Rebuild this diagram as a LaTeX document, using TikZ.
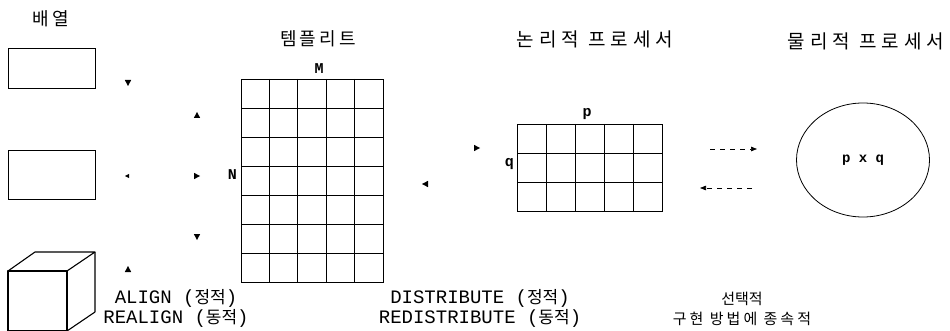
\documentclass[tikz,border=0pt]{standalone}
\usepackage{fontspec}
\setmainfont{Liberation Serif}
\setmonofont{Liberation Mono}
\newfontfamily\krfont[LetterSpace=18]{Noto Sans CJK KR}
\newfontfamily\krwide[LetterSpace=26]{Noto Sans CJK KR}
\newfontfamily\krbot[LetterSpace=20]{Noto Sans CJK KR}
\newfontfamily\krin{Noto Sans CJK KR}
\usetikzlibrary{arrows.meta,shapes.geometric}
\begin{document}
\begin{tikzpicture}[x=1pt,y=-1pt,
  box/.style={draw, line width=0.9pt, inner sep=0pt},
  title/.style={font=\krfont\fontsize{18}{20}\selectfont, inner sep=0pt},
  widetitle/.style={font=\krwide\fontsize{19}{20}\selectfont, inner sep=0pt},
  lbl/.style={font=\ttfamily\bfseries\fontsize{15}{16}\selectfont, inner sep=0pt},
  note/.style={font=\ttfamily\fontsize{19}{20}\selectfont, align=center, inner sep=0pt},
  knote/.style={font=\krbot\fontsize{15}{20}\selectfont, align=center, inner sep=0pt},
  gridline/.style={line width=0.9pt},
  dasharrow/.style={line width=0.7pt, dash pattern=on 5pt off 5pt, -{Triangle[length=6pt,width=4.5pt]}},
  tip/.pic={\fill (0,0) -- (-6,3.2) -- (-6,-3.2) -- cycle;}
]
\newcommand{\ko}[1]{{\krin\fontsize{17}{20}\selectfont #1}}
\useasboundingbox (0,0) rectangle (950,331);

% titles
\node[title] (tarr) at (51,19) {배열};
\node[title] (ttmp) at (318,39) {템플리트};
\node[widetitle] (tlog) at (595,39) {논리적 프로세서};
\node[widetitle] (tphy) at (866,41) {물리적 프로세서};

% arrays
\node[box, minimum width=87pt, minimum height=40pt] (arr1) at (51.5,68) {};
\node[box, minimum width=87pt, minimum height=49pt] (arr2) at (51.5,174.5) {};
% cube
\coordinate (cA) at (8,271);
\coordinate (cB) at (67,271);
\coordinate (cC) at (67,331);
\coordinate (cD) at (8,331);
\coordinate (cE) at (35,252);
\coordinate (cF) at (95,252);
\coordinate (cG) at (95,312);
\draw[line width=1.1pt, line join=round] (cA) -- (cB) -- (cC) -- (cD) -- cycle;
\draw[line width=1.1pt, line join=round] (cA) -- (cE) -- (cF) -- (cB);
\draw[line width=1.1pt, line join=round] (cF) -- (cG) -- (cC);

% arrow heads (lines faded in original)
\pic[rotate=-90] at (128,86) {tip};
\pic[rotate=90] at (197,112) {tip};
\pic[rotate=180, scale=0.7] at (125,176) {tip};
\pic at (200,176) {tip};
\pic[rotate=-90] at (197,240) {tip};
\pic[rotate=90] at (128,266) {tip};
\pic at (480,148) {tip};
\pic[rotate=180] at (422,184) {tip};

% template grid 5 x 7
\node[box, minimum width=142pt, minimum height=203pt] (tmpl) at (312,180.5) {};
\foreach \i in {1,...,4} \draw[gridline] (241+\i*28.4,79) -- (241+\i*28.4,282);
\foreach \j in {1,...,6} \draw[gridline] (241,79+\j*29) -- (383,79+\j*29);
\node[lbl, anchor=south] (lM) at (319,74) {M};
\node[lbl, anchor=east] (lN) at (237,175) {N};

% logical processor grid 5 x 3
\node[box, minimum width=145pt, minimum height=87pt] (lgrid) at (589.5,167.5) {};
\foreach \i in {1,...,4} \draw[gridline] (517+\i*29,124) -- (517+\i*29,211);
\foreach \j in {1,2} \draw[gridline] (517,124+\j*29) -- (662,124+\j*29);
\node[lbl, anchor=south] (lp) at (587,120) {p};
\node[lbl, anchor=east] (lq) at (514,164) {q};

% physical processors
\node[draw, ellipse, line width=0.8pt, minimum width=133pt, minimum height=114pt, inner sep=0pt,
      font=\ttfamily\bfseries\fontsize{14}{15}\selectfont] (phys) at (863,160) {p x q};

% dashed arrows
\coordinate (d1s) at (710,149);
\coordinate (d1e) at (757,149);
\coordinate (d2s) at (752,188);
\coordinate (d2e) at (700,188);
\draw[dasharrow] (d1s) -- (d1e);
\draw[dasharrow] (d2s) -- (d2e);

% bottom notes
\node[note] (nal) at (176,308.5) {ALIGN (\ko{정적})\\REALIGN (\ko{동적})};
\node[note] (ndi) at (480,308.5) {DISTRIBUTE (\ko{정적})\\REDISTRIBUTE (\ko{동적})};
\node[knote] (nop) at (742,308.5) {{\krin\fontsize{15}{20}\selectfont 선택적}\\구현 방법에 종속적};
\end{tikzpicture}
\end{document}
